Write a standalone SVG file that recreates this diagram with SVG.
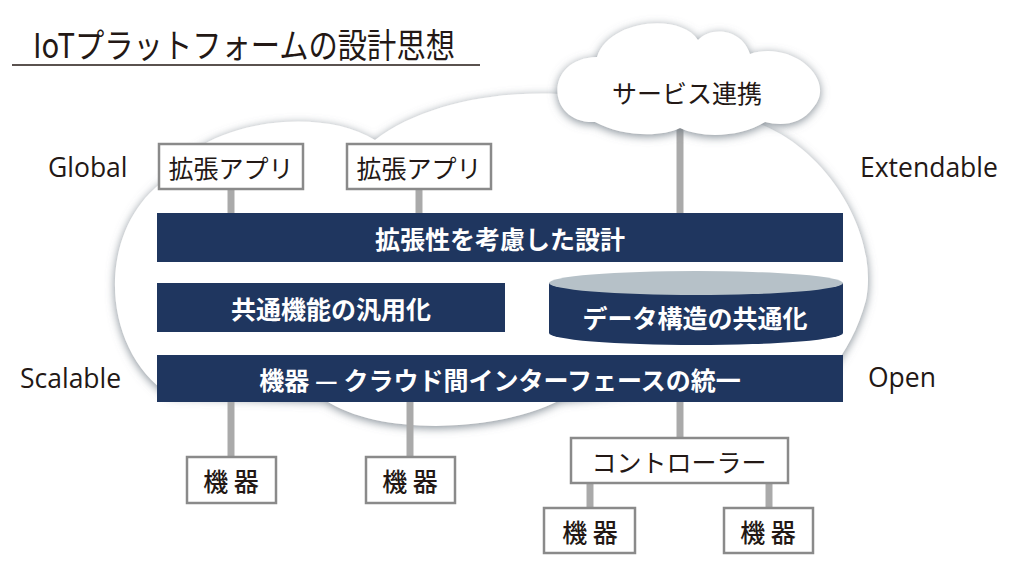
<svg xmlns="http://www.w3.org/2000/svg" width="1024" height="569" viewBox="0 0 1024 569">
  <defs>
    <filter id="cloudShadow" x="-20%" y="-20%" width="140%" height="140%">
      <feGaussianBlur in="SourceAlpha" stdDeviation="5"/>
      <feOffset dx="0" dy="2" result="blur"/>
      <feFlood flood-color="#6f7a84" flood-opacity="0.85"/>
      <feComposite in2="blur" operator="in" result="shadow"/>
      <feMerge>
        <feMergeNode in="shadow"/>
        <feMergeNode in="SourceGraphic"/>
      </feMerge>
    </filter>
  </defs>
  <style>
    .cloud { fill: #ffffff; filter: url(#cloudShadow); }
    .bar { fill: #1f365f; }
    .bartext { font-family: "Noto Sans CJK JP", "Noto Sans", sans-serif; font-size: 25px; font-weight: bold; fill: #ffffff; text-anchor: middle; dominant-baseline: central; }
    .box { fill: #ffffff; stroke: #8a8a8a; stroke-width: 2.5; }
    .boxtext { font-family: "Noto Sans CJK JP", "Noto Sans", sans-serif; font-size: 25px; fill: #231815; text-anchor: middle; dominant-baseline: central; }
    .kiki { font-family: "Noto Sans CJK JP", "Noto Sans", sans-serif; font-size: 25px; font-weight: 500; fill: #231815; text-anchor: middle; dominant-baseline: central; }
    .side { font-family: "Open Sans", "Noto Sans", sans-serif; font-size: 26.5px; fill: #231815; dominant-baseline: central; }
    .conn { stroke: #aaaaaa; stroke-width: 7; fill: none; }
    .title { font-family: "Noto Sans CJK JP", "Noto Sans", sans-serif; font-size: 34px; fill: #231815; }
  </style>

  <!-- Big cloud (background) -->
  <g id="platform-cloud">
    <path class="cloud" d="M 170,395 C 100,350 95,230 165,180 C 200,120 320,105 375,140 C 420,105 500,88 575,95 L 740,118 C 820,135 880,230 866,300 C 858,330 846,350 830,372 L 560,400 C 500,432 380,437 325,400 Z"/>
  </g>

  <!-- Title -->
  <g id="title">
    <text class="title" x="33" y="58" textLength="422" lengthAdjust="spacingAndGlyphs">IoTプラットフォームの設計思想</text>
    <line x1="12" y1="65" x2="480" y2="65" stroke="#231815" stroke-width="1.5"/>
  </g>

  <!-- Connectors -->
  <g id="connectors">
    <line class="conn" x1="231" y1="189" x2="231" y2="213"/>
    <line class="conn" x1="419" y1="189" x2="419" y2="213"/>
    <line class="conn" x1="680" y1="120" x2="680" y2="213"/>
    <line class="conn" x1="231" y1="402" x2="231" y2="457"/>
    <line class="conn" x1="410" y1="402" x2="410" y2="457"/>
    <line class="conn" x1="680" y1="402" x2="680" y2="438"/>
    <line class="conn" x1="590" y1="483" x2="590" y2="508"/>
    <line class="conn" x1="769" y1="483" x2="769" y2="508"/>
  </g>

  <!-- Service cloud -->
  <g id="service-cloud">
    <path class="cloud" d="M 595,122 C 546,124 543,58 597,57 C 608,20 680,12 698,40 C 710,26 742,28 750,54 C 792,40 838,80 813,108 C 801,125 781,126 765,122 C 740,138 700,138 680,128 C 660,138 620,136 595,122 Z"/>
    <text class="boxtext" x="687" y="92">サービス連携</text>
  </g>

  <!-- Side labels -->
  <g id="labels">
    <text class="side" x="48" y="167">Global</text>
    <text class="side" x="860" y="167">Extendable</text>
    <text class="side" x="20" y="378">Scalable</text>
    <text class="side" x="868" y="377">Open</text>
  </g>

  <!-- App boxes -->
  <g id="app1">
    <rect class="box" x="159" y="144" width="144" height="45"/>
    <text class="boxtext" x="231" y="167">拡張アプリ</text>
  </g>
  <g id="app2">
    <rect class="box" x="347" y="144" width="144" height="45"/>
    <text class="boxtext" x="419" y="167">拡張アプリ</text>
  </g>

  <!-- Bars -->
  <g id="extensibility">
    <rect class="bar" x="157" y="213" width="686" height="49"/>
    <text class="bartext" x="500" y="238">拡張性を考慮した設計</text>
  </g>
  <g id="common-functions">
    <rect class="bar" x="157" y="283" width="348" height="49"/>
    <text class="bartext" x="331" y="308">共通機能の汎用化</text>
  </g>
  <g id="data-structure">
    <path class="bar" d="M 549,283 L 549,333 A 147,12 0 0 0 843,333 L 843,283 Z"/>
    <ellipse cx="696" cy="283" rx="147" ry="12" fill="#b6c1c8"/>
    <text class="bartext" x="695" y="317">データ構造の共通化</text>
  </g>
  <g id="interface">
    <rect class="bar" x="157" y="355" width="686" height="47"/>
    <text class="bartext" x="500" y="379">機器 — クラウド間インターフェースの統一</text>
  </g>

  <!-- Device boxes -->
  <g id="device1">
    <rect class="box" x="187" y="457" width="89" height="46"/>
    <text class="kiki" x="231" y="480">機 器</text>
  </g>
  <g id="device2">
    <rect class="box" x="366" y="457" width="89" height="46"/>
    <text class="kiki" x="410" y="480">機 器</text>
  </g>
  <g id="controller">
    <rect class="box" x="571" y="438" width="217" height="45"/>
    <text class="boxtext" x="679" y="461">コントローラー</text>
  </g>
  <g id="device3">
    <rect class="box" x="544" y="508" width="91" height="45"/>
    <text class="kiki" x="590" y="531">機 器</text>
  </g>
  <g id="device4">
    <rect class="box" x="724" y="508" width="89" height="45"/>
    <text class="kiki" x="768" y="531">機 器</text>
  </g>
</svg>
